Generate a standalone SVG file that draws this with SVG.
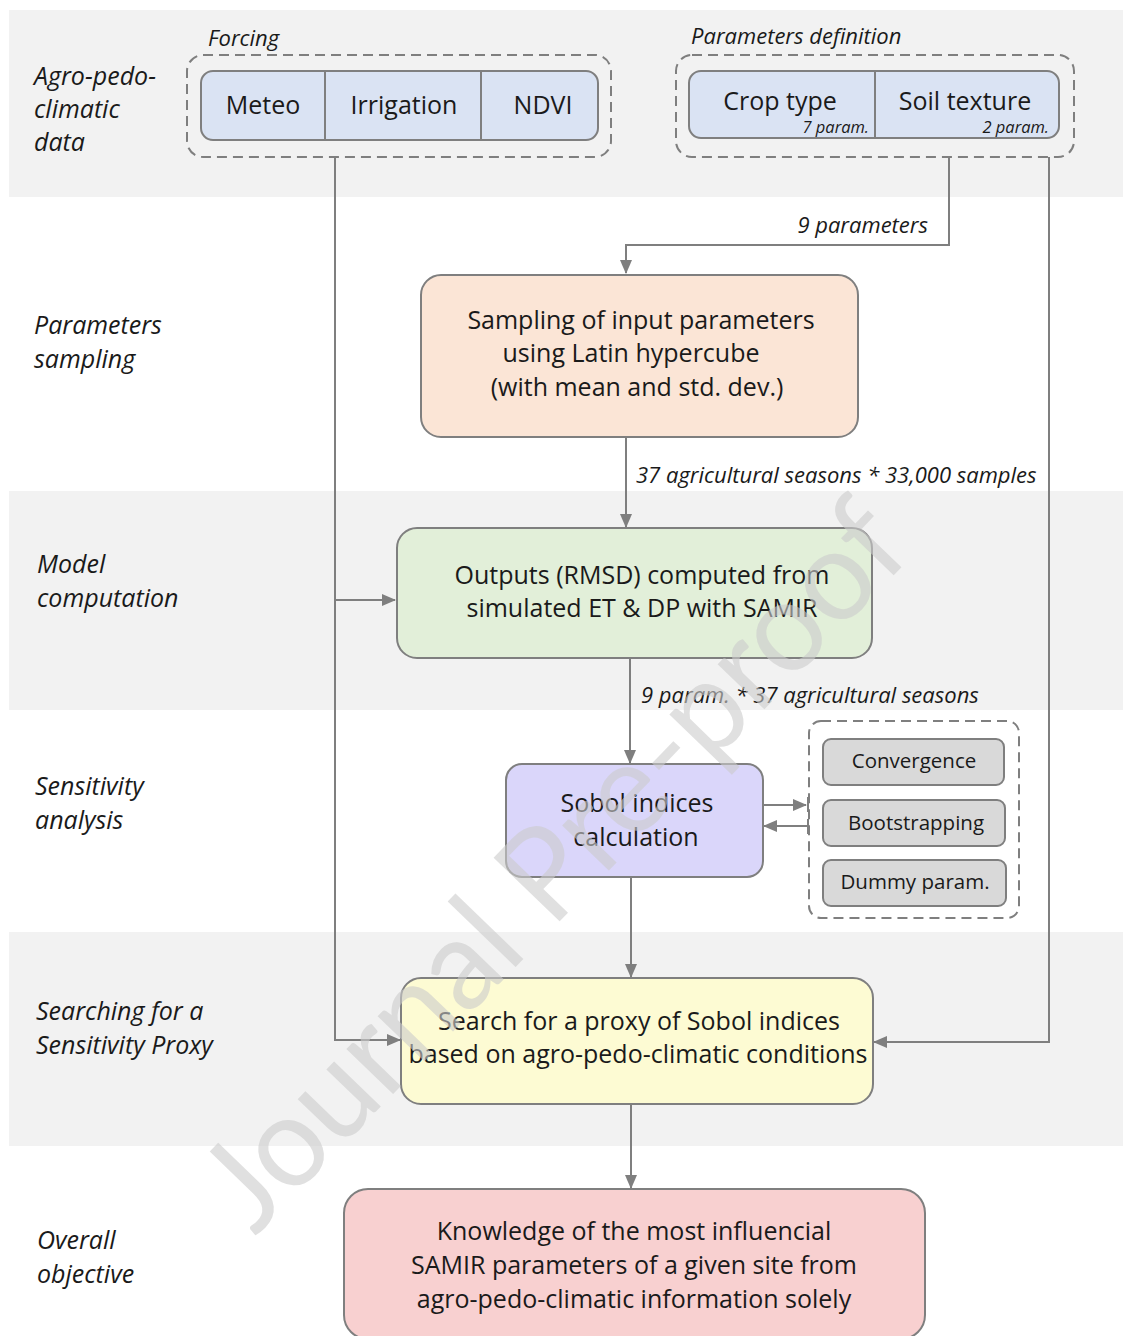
<svg xmlns="http://www.w3.org/2000/svg" width="1123" height="1336" viewBox="0 0 1123 1336">
<defs>
<style>
.band{fill:#f2f2f2}
.lbl{font-family:"Open Sans","Noto Sans",sans-serif;font-style:italic;font-size:25px;fill:#1a1a1a}
.sm{font-family:"Open Sans","Noto Sans",sans-serif;font-style:italic;font-size:22px;fill:#1a1a1a}
.tiny{font-family:"Open Sans","Noto Sans",sans-serif;font-style:italic;font-size:16.5px;fill:#1a1a1a}
.t{font-family:"Open Sans","Noto Sans",sans-serif;font-size:25px;fill:#1a1a1a;text-anchor:middle}
.ts{font-family:"Open Sans","Noto Sans",sans-serif;font-size:20.5px;fill:#1a1a1a;text-anchor:middle}
.box{stroke:#7f7f7f;stroke-width:2}
.dash{fill:none;stroke:#7f7f7f;stroke-width:2;stroke-dasharray:10 6}
.con{fill:none;stroke:#7f7f7f;stroke-width:2}
.wm{font-family:Lato,"Open Sans",sans-serif;font-weight:400;font-size:128px;fill:#cccccc;opacity:0.6;text-anchor:middle}
</style>
<marker id="ah" markerUnits="userSpaceOnUse" markerWidth="14" markerHeight="14" viewBox="0 0 14 14" refX="13" refY="7" orient="auto">
<path d="M0,1 L14,7 L0,13 Z" fill="#7f7f7f"/>
</marker>
</defs>
<rect width="1123" height="1336" fill="#ffffff"/>
<g id="bands">
<rect class="band" x="9" y="10" width="1114" height="187"/>
<rect class="band" x="9" y="491" width="1114" height="219"/>
<rect class="band" x="9" y="932" width="1114" height="214"/>
</g>
<g id="row-labels">
<text class="lbl" x="34" y="85">Agro-pedo-</text>
<text class="lbl" x="34" y="118">climatic</text>
<text class="lbl" x="34" y="151">data</text>
<text class="lbl" x="34" y="334">Parameters</text>
<text class="lbl" x="34" y="368">sampling</text>
<text class="lbl" x="37" y="573">Model</text>
<text class="lbl" x="37" y="607">computation</text>
<text class="lbl" x="35" y="795">Sensitivity</text>
<text class="lbl" x="35" y="829">analysis</text>
<text class="lbl" x="36" y="1020">Searching for a</text>
<text class="lbl" x="36" y="1054">Sensitivity Proxy</text>
<text class="lbl" x="37" y="1249">Overall</text>
<text class="lbl" x="37" y="1283">objective</text>
</g>
<g id="connectors">
<polyline class="con" points="335,157 335,600 395,600" marker-end="url(#ah)"/>
<polyline class="con" points="335,600 335,1040 400,1040" marker-end="url(#ah)"/>
<polyline class="con" points="949,157 949,245 626,245 626,273" marker-end="url(#ah)"/>
<polyline class="con" points="1049,157 1049,1042 874,1042" marker-end="url(#ah)"/>
<line class="con" x1="626" y1="437" x2="626" y2="527" marker-end="url(#ah)"/>
<line class="con" x1="630" y1="658" x2="630" y2="763" marker-end="url(#ah)"/>
<line class="con" x1="763" y1="805" x2="806" y2="805" marker-end="url(#ah)"/>
<line class="con" x1="808" y1="826" x2="764" y2="826" marker-end="url(#ah)"/>
<line class="con" x1="808" y1="797" x2="808" y2="812"/>
<line class="con" x1="808" y1="819" x2="808" y2="834"/>
<line class="con" x1="631" y1="877" x2="631" y2="977" marker-end="url(#ah)"/>
<line class="con" x1="631" y1="1104" x2="631" y2="1188" marker-end="url(#ah)"/>
<text class="sm" x="928" y="233" text-anchor="end">9 parameters</text>
<text class="sm" x="636" y="483">37 agricultural seasons * 33,000 samples</text>
<text class="sm" x="641" y="703">9 param. * 37 agricultural seasons</text>
</g>
<g id="forcing">
<rect class="dash" x="187" y="55" width="424" height="102" rx="16"/>
<text class="sm" x="208" y="46">Forcing</text>
<rect class="box" x="201" y="71" width="397" height="69" rx="12" fill="#dae3f3"/>
<line class="box" x1="325" y1="71" x2="325" y2="140"/>
<line class="box" x1="481" y1="71" x2="481" y2="140"/>
<text class="t" x="263" y="114">Meteo</text>
<text class="t" x="404" y="114">Irrigation</text>
<text class="t" x="543" y="114">NDVI</text>
</g>
<g id="parameters-definition">
<rect class="dash" x="676" y="55" width="398" height="102" rx="16"/>
<text class="sm" x="691" y="44">Parameters definition</text>
<rect class="box" x="689" y="71" width="370" height="67" rx="12" fill="#dae3f3"/>
<line class="box" x1="875" y1="71" x2="875" y2="138"/>
<text class="t" x="780" y="110">Crop type</text>
<text class="tiny" x="869" y="133" text-anchor="end">7 param.</text>
<text class="t" x="965" y="110">Soil texture</text>
<text class="tiny" x="1049" y="133" text-anchor="end">2 param.</text>
</g>
<g id="sampling">
<rect class="box" x="421" y="275" width="437" height="162" rx="20" fill="#fbe5d6"/>
<text class="t" x="641" y="329">Sampling of input parameters</text>
<text class="t" x="631" y="362">using Latin hypercube</text>
<text class="t" x="637" y="396">(with mean and std. dev.)</text>
</g>
<g id="model">
<rect class="box" x="397" y="528" width="475" height="130" rx="20" fill="#e2efd9"/>
<text class="t" x="642" y="584">Outputs (RMSD) computed from</text>
<text class="t" x="642" y="617">simulated ET &amp; DP with SAMIR</text>
</g>
<g id="sobol">
<rect class="box" x="506" y="764" width="257" height="113" rx="16" fill="#dad6fa"/>
<text class="t" x="637" y="812">Sobol indices</text>
<text class="t" x="636" y="846">calculation</text>
</g>
<g id="checks">
<rect class="dash" x="809" y="721" width="210" height="197" rx="12"/>
<rect class="box" x="823" y="739" width="181" height="46" rx="8" fill="#d9d9d9"/>
<text class="ts" x="914" y="768">Convergence</text>
<rect class="box" x="823" y="800" width="182" height="46" rx="8" fill="#d9d9d9"/>
<text class="ts" x="916" y="830">Bootstrapping</text>
<rect class="box" x="823" y="860" width="183" height="46" rx="8" fill="#d9d9d9"/>
<text class="ts" x="915" y="889">Dummy param.</text>
</g>
<g id="proxy">
<rect class="box" x="401" y="978" width="472" height="126" rx="20" fill="#fdfbd3"/>
<text class="t" x="639" y="1030">Search for a proxy of Sobol indices</text>
<text class="t" x="638" y="1063">based on agro-pedo-climatic conditions</text>
</g>
<g id="objective">
<rect class="box" x="344" y="1189" width="581" height="150" rx="24" fill="#f8d0d0"/>
<text class="t" x="634" y="1240">Knowledge of the most influencial</text>
<text class="t" x="634" y="1274">SAMIR parameters of a given site from</text>
<text class="t" x="634" y="1308">agro-pedo-climatic information solely</text>
</g>
<g id="watermark">
<text class="wm" transform="translate(585,895) rotate(-46)" x="0" y="0" textLength="950" lengthAdjust="spacingAndGlyphs">Journal Pre-proof</text>
</g>
</svg>
